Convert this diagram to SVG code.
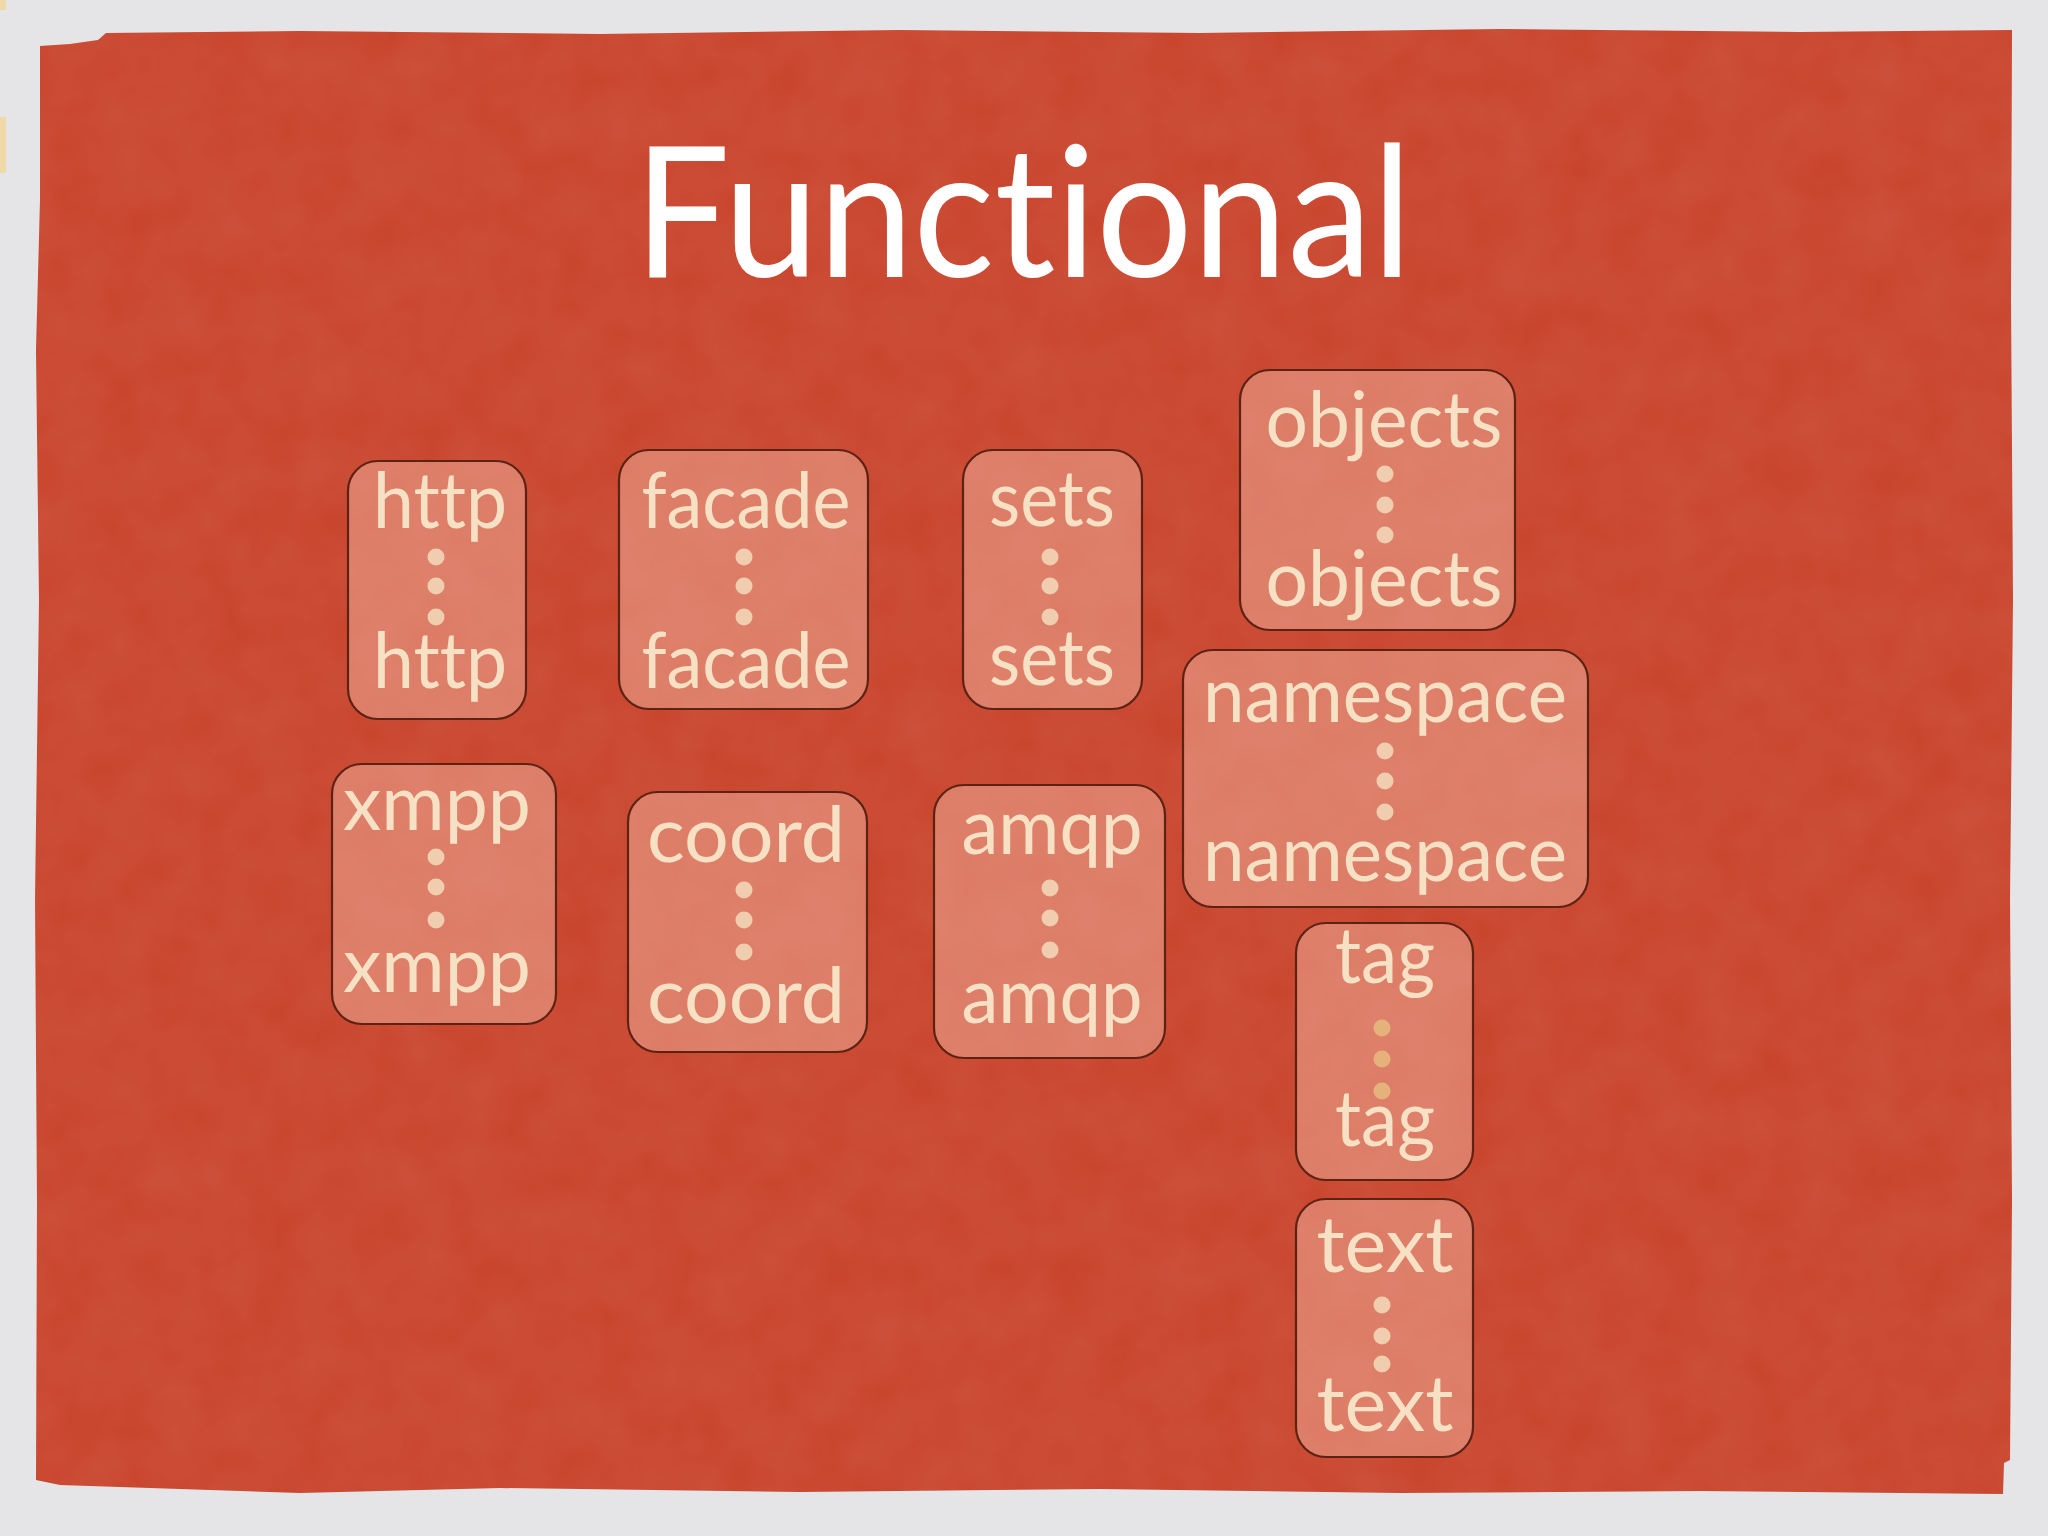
<svg xmlns="http://www.w3.org/2000/svg" width="2048" height="1536" viewBox="0 0 2048 1536">
  <defs>
    <filter id="paper" x="0" y="0" width="100%" height="100%">
      <feTurbulence type="fractalNoise" baseFrequency="0.02" numOctaves="3" seed="7" result="n"/>
      <feColorMatrix in="n" type="matrix" values="0 0 0 0 1  0 0 0 0 0.8  0 0 0 0 0.7  0 0 0 0.09 0" result="c"/>
      <feComposite in="c" in2="SourceGraphic" operator="in"/>
    </filter>
    <style>
      .box { fill: #f6c2b0; fill-opacity: 0.44; stroke: #5c2214; stroke-width: 2.2; }
      .lbl { font-family: Lato, "Open Sans", "Liberation Sans", sans-serif; font-size: 78px; fill: #f6e1c4; text-anchor: middle; font-variant-ligatures: none; font-feature-settings: "liga" 0, "clig" 0; }
      .dot { fill: #f1cdb0; }
      .dot2 { fill: #e6b27c; }
      .title { font-family: Lato, "Open Sans", "Liberation Sans", sans-serif; font-size: 182px; fill: #ffffff; text-anchor: middle; font-variant-ligatures: none; font-feature-settings: "liga" 0, "clig" 0; }
    </style>
  </defs>

  <rect x="0" y="0" width="2048" height="1536" fill="#e5e5e7"/>
  <rect x="0" y="117" width="6" height="56" fill="#efd9a5"/>
  <rect x="0" y="0" width="6" height="10" fill="#efd9a5"/>

  <g id="panel">
    <path id="panel-shape" d="M40,46 L70,44 L98,40 L106,33 L300,31 L600,34 L900,30 L1200,33 L1500,29 L1800,32 L2012,30 L2011,300 L2013,600 L2010,900 L2012,1200 L2010,1460 L2004,1463 L2003,1494 L1700,1491 L1400,1493 L1100,1489 L800,1492 L500,1488 L300,1493 L150,1488 L60,1485 L36,1480 L37,1200 L35,900 L39,600 L36,350 L40,200 Z" fill="#c8432b"/>
    <path d="M40,46 L70,44 L98,40 L106,33 L300,31 L600,34 L900,30 L1200,33 L1500,29 L1800,32 L2012,30 L2011,300 L2013,600 L2010,900 L2012,1200 L2010,1460 L2004,1463 L2003,1494 L1700,1491 L1400,1493 L1100,1489 L800,1492 L500,1488 L300,1493 L150,1488 L60,1485 L36,1480 L37,1200 L35,900 L39,600 L36,350 L40,200 Z" fill="#c8432b" filter="url(#paper)"/>
  </g>

  <text class="title" x="1023" y="277" textLength="778" lengthAdjust="spacingAndGlyphs">Functional</text>

  <g id="connectors"></g>

  <g id="node-http">
    <rect class="box" x="348" y="461" width="178" height="258" rx="30"/>
    <text class="lbl" x="440" y="528" textLength="134" lengthAdjust="spacingAndGlyphs">http</text>
    <circle class="dot" cx="436" cy="557" r="8.5"/><circle class="dot" cx="436" cy="586" r="8.5"/><circle class="dot" cx="436" cy="617" r="8.5"/>
    <text class="lbl" x="440" y="688" textLength="134" lengthAdjust="spacingAndGlyphs">http</text>
  </g>

  <g id="node-facade">
    <rect class="box" x="619" y="450" width="249" height="259" rx="30"/>
    <text class="lbl" x="746" y="528" textLength="209" lengthAdjust="spacingAndGlyphs">facade</text>
    <circle class="dot" cx="744" cy="557" r="8.5"/><circle class="dot" cx="744" cy="586" r="8.5"/><circle class="dot" cx="744" cy="617" r="8.5"/>
    <text class="lbl" x="746" y="688" textLength="209" lengthAdjust="spacingAndGlyphs">facade</text>
  </g>

  <g id="node-sets">
    <rect class="box" x="963" y="450" width="179" height="259" rx="30"/>
    <text class="lbl" x="1052" y="526" textLength="126" lengthAdjust="spacingAndGlyphs">sets</text>
    <circle class="dot" cx="1050" cy="557" r="8.5"/><circle class="dot" cx="1050" cy="586" r="8.5"/><circle class="dot" cx="1050" cy="617" r="8.5"/>
    <text class="lbl" x="1052" y="685" textLength="126" lengthAdjust="spacingAndGlyphs">sets</text>
  </g>

  <g id="node-objects">
    <rect class="box" x="1240" y="370" width="275" height="260" rx="30"/>
    <text class="lbl" x="1384" y="447" textLength="237" lengthAdjust="spacingAndGlyphs">objects</text>
    <circle class="dot" cx="1385" cy="474" r="8.5"/><circle class="dot" cx="1385" cy="505" r="8.5"/><circle class="dot" cx="1385" cy="535" r="8.5"/>
    <text class="lbl" x="1384" y="606" textLength="237" lengthAdjust="spacingAndGlyphs">objects</text>
  </g>

  <g id="node-namespace">
    <rect class="box" x="1183" y="650" width="405" height="257" rx="30"/>
    <text class="lbl" x="1385" y="722" textLength="364" lengthAdjust="spacingAndGlyphs">namespace</text>
    <circle class="dot" cx="1385" cy="751" r="8.5"/><circle class="dot" cx="1385" cy="781" r="8.5"/><circle class="dot" cx="1385" cy="812" r="8.5"/>
    <text class="lbl" x="1385" y="881" textLength="364" lengthAdjust="spacingAndGlyphs">namespace</text>
  </g>

  <g id="node-xmpp">
    <rect class="box" x="332" y="764" width="224" height="260" rx="30"/>
    <text class="lbl" x="437" y="830" textLength="188" lengthAdjust="spacingAndGlyphs">xmpp</text>
    <circle class="dot" cx="436" cy="857" r="8.5"/><circle class="dot" cx="436" cy="887" r="8.5"/><circle class="dot" cx="436" cy="920" r="8.5"/>
    <text class="lbl" x="437" y="992" textLength="188" lengthAdjust="spacingAndGlyphs">xmpp</text>
  </g>

  <g id="node-coord">
    <rect class="box" x="628" y="792" width="239" height="260" rx="30"/>
    <text class="lbl" x="746" y="862" textLength="198" lengthAdjust="spacingAndGlyphs">coord</text>
    <circle class="dot" cx="744" cy="890" r="8.5"/><circle class="dot" cx="744" cy="920" r="8.5"/><circle class="dot" cx="744" cy="952" r="8.5"/>
    <text class="lbl" x="746" y="1023" textLength="198" lengthAdjust="spacingAndGlyphs">coord</text>
  </g>

  <g id="node-amqp">
    <rect class="box" x="934" y="785" width="231" height="273" rx="30"/>
    <text class="lbl" x="1052" y="854" textLength="181" lengthAdjust="spacingAndGlyphs">amqp</text>
    <circle class="dot" cx="1050" cy="888" r="8.5"/><circle class="dot" cx="1050" cy="918" r="8.5"/><circle class="dot" cx="1050" cy="950" r="8.5"/>
    <text class="lbl" x="1052" y="1023" textLength="181" lengthAdjust="spacingAndGlyphs">amqp</text>
  </g>

  <g id="node-tag">
    <rect class="box" x="1296" y="923" width="177" height="257" rx="30"/>
    <text class="lbl" x="1385" y="983" textLength="100" lengthAdjust="spacingAndGlyphs">tag</text>
    <circle class="dot2" cx="1382" cy="1028" r="8.5"/><circle class="dot2" cx="1382" cy="1059" r="8.5"/><circle class="dot2" cx="1382" cy="1091" r="8.5"/>
    <text class="lbl" x="1385" y="1146" textLength="100" lengthAdjust="spacingAndGlyphs">tag</text>
  </g>

  <g id="node-text">
    <rect class="box" x="1296" y="1199" width="177" height="258" rx="30"/>
    <text class="lbl" x="1385" y="1272" textLength="137" lengthAdjust="spacingAndGlyphs">text</text>
    <circle class="dot" cx="1382" cy="1305" r="8.5"/><circle class="dot" cx="1382" cy="1336" r="8.5"/><circle class="dot" cx="1382" cy="1364" r="8.5"/>
    <text class="lbl" x="1385" y="1431" textLength="137" lengthAdjust="spacingAndGlyphs">text</text>
  </g>
</svg>
